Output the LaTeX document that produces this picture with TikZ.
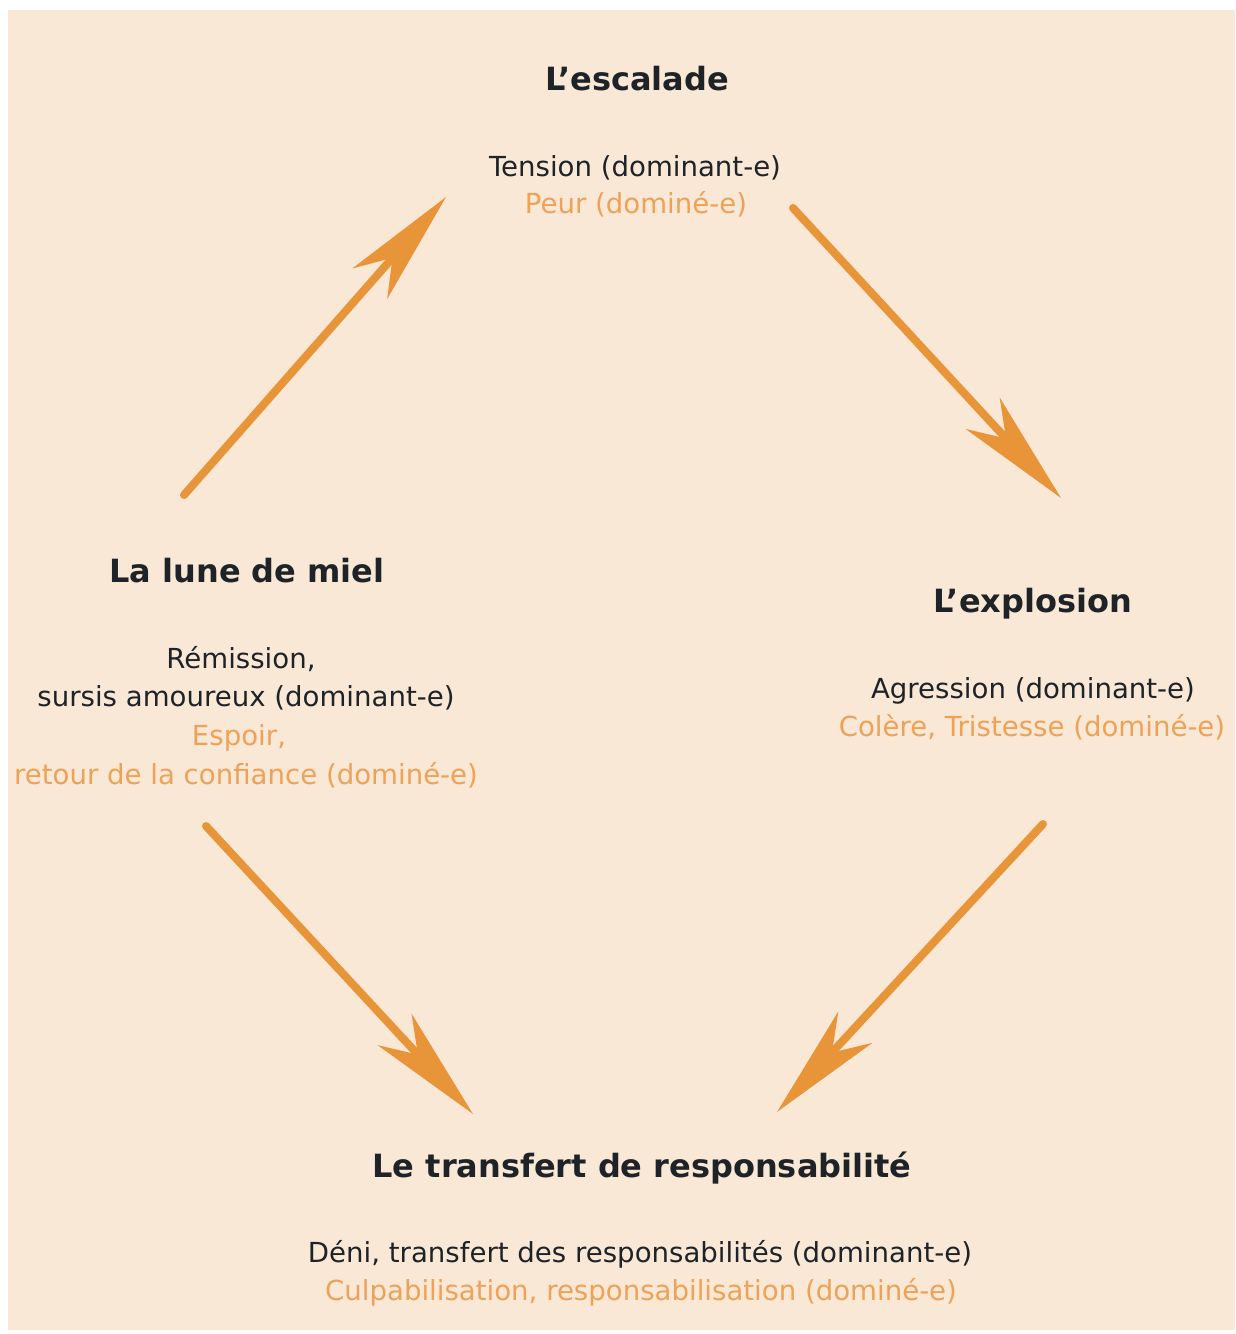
\documentclass[tikz,border=0pt]{standalone}
\usepackage{fontspec}
\setmainfont{DejaVu Sans}
\usetikzlibrary{arrows.meta}
\definecolor{bgpeach}{HTML}{FAE8D6}
\definecolor{arroworange}{HTML}{E8953A}
\definecolor{softorange}{HTML}{EDA258}
\definecolor{darktext}{HTML}{1E2328}
\tikzset{
  head/.style={anchor=base, inner sep=0pt, text=darktext, font=\fontsize{32}{38}\selectfont\bfseries},
  domtext/.style={anchor=base, inner sep=0pt, text=darktext, font=\fontsize{27.6}{38}\selectfont},
  subtext/.style={anchor=base, inner sep=0pt, text=softorange, font=\fontsize{27.6}{38}\selectfont},
  cyclearrow/.style={draw=arroworange, line width=8pt, line cap=round,
    -{Stealth[length=115pt, width=46pt, inset=34pt, fill=arroworange]}}
}
\begin{document}
\begin{tikzpicture}[x=1pt,y=1pt]
\useasboundingbox (0,0) rectangle (1235,-1334);
\fill[white] (0,0) rectangle (1235,-1334);
\fill[bgpeach] (8,-10) rectangle (1235,-1330);

% top: L'escalade
\node[head] (esc) at (637,-90) {L’escalade};
\node[domtext] (esc1) at (635,-176) {Tension (dominant-e)};
\node[subtext] (esc2) at (636,-213) {Peur (dominé-e)};

% left: La lune de miel
\node[head] (lune) at (247,-582) {La lune de miel};
\node[domtext] (lune1) at (241,-668) {Rémission,};
\node[domtext] (lune2) at (246,-706) {sursis amoureux (dominant-e)};
\node[subtext] (lune3) at (239,-745) {Espoir,};
\node[subtext] (lune4) at (246,-784) {retour de la confiance (dominé-e)};

% right: L'explosion
\node[head] (expl) at (1033,-612) {L’explosion};
\node[domtext] (expl1) at (1033,-698) {Agression (dominant-e)};
\node[subtext] (expl2) at (1032,-736) {Colère, Tristesse (dominé-e)};

% bottom: Le transfert de responsabilité
\node[head] (trans) at (642,-1177) {Le transfert de responsabilité};
\node[domtext] (trans1) at (640,-1262) {Déni, transfert des responsabilités (dominant-e)};
\node[subtext] (trans2) at (641,-1300) {Culpabilisation, responsabilisation (dominé-e)};

% arrow end points
\coordinate (a1s) at (184,-495);
\coordinate (a1e) at (446,-197);
\coordinate (a2s) at (793,-208);
\coordinate (a2e) at (1061,-498);
\coordinate (a3s) at (1043,-824);
\coordinate (a3e) at (777,-1112);
\coordinate (a4s) at (206,-826);
\coordinate (a4e) at (473,-1114);

\draw[cyclearrow] (a1s) -- (a1e);
\draw[cyclearrow] (a2s) -- (a2e);
\draw[cyclearrow] (a3s) -- (a3e);
\draw[cyclearrow] (a4s) -- (a4e);
\end{tikzpicture}
\end{document}
